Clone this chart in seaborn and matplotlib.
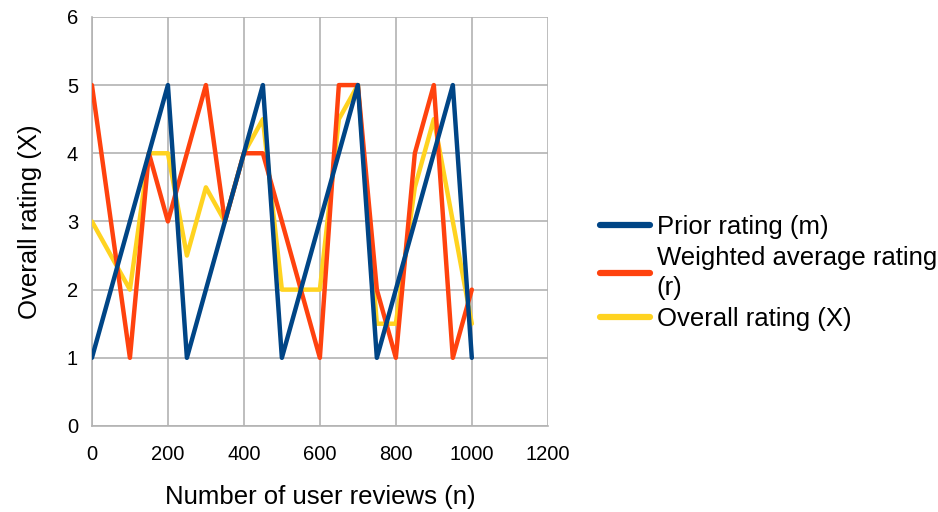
import matplotlib
matplotlib.use("Agg")
import matplotlib.pyplot as plt
import seaborn as sns
import pandas as pd

# Number of user reviews (n)
reviews = [0, 50, 100, 150, 200, 250, 300, 350, 400, 450, 500,
           550, 600, 650, 700, 750, 800, 850, 900, 950, 1000]

# Rating series
prior_rating = [1, 2, 3, 4, 5, 1, 2, 3, 4, 5, 1,
                2, 3, 4, 5, 1, 2, 3, 4, 5, 1]
weighted_avg_rating = [5, 3, 1, 4, 3, 4, 5, 3, 4, 4, 3,
                       2, 1, 5, 5, 2, 1, 4, 5, 1, 2]
overall_rating = [3, 2.5, 2, 4, 4, 2.5, 3.5, 3, 4, 4.5, 2,
                  2, 2, 4.5, 5, 1.5, 1.5, 3.5, 4.5, 3, 1.5]

series_names = ["Prior rating (m)", "Weighted average rating\n(r)", "Overall rating (X)"]
series_colors = ["#004586", "#ff420e", "#ffd320"]

df = pd.concat([
    pd.DataFrame({"n": reviews, "rating": vals, "series": name})
    for name, vals in zip(series_names, [prior_rating, weighted_avg_rating, overall_rating])
])

sns.set_style("whitegrid")
plt.rcParams["font.family"] = ["Liberation Sans", "DejaVu Sans"]
plt.rcParams["text.color"] = "black"
plt.rcParams["axes.labelcolor"] = "black"

fig = plt.figure(figsize=(9.38, 5.12), dpi=100)
ax = fig.add_axes([0.098, 0.168, 0.486, 0.799])

sns.lineplot(data=df, x="n", y="rating", hue="series", hue_order=series_names,
             palette=dict(zip(series_names, series_colors)), linewidth=3.2,
             estimator=None, sort=False, ax=ax)

# first series on top, last series at the bottom
for i, line in enumerate(ax.lines[:3]):
    line.set_zorder(4 - 0.5 * i)

ax.set_xlim(0, 1200)
ax.set_ylim(0, 6)
ax.set_xticks(range(0, 1201, 200))
ax.set_yticks(range(0, 7))
ax.grid(True, color="#b3b3b3", linewidth=1.2)
for side in ["top", "right"]:
    ax.spines[side].set_visible(False)
for side in ["left", "bottom"]:
    ax.spines[side].set_color("#b3b3b3")
    ax.spines[side].set_linewidth(1.2)
ax.tick_params(axis="both", length=6, width=1.2, color="#b3b3b3",
               labelsize=14.5, labelcolor="#000000", pad=4)
ax.tick_params(axis="x", pad=8)
ax.set_xlabel("Number of user reviews (n)", fontsize=18.5, labelpad=15)
ax.set_ylabel("Overall rating (X)", fontsize=18.5, labelpad=18)

leg = ax.legend(loc="center left", bbox_to_anchor=(0.64, 0.467),
                bbox_transform=fig.transFigure, frameon=False,
                fontsize=18.5, handlelength=1.95, handletextpad=0.25,
                labelspacing=0.28, borderpad=0, borderaxespad=0)
for line in leg.get_lines():
    line.set_linewidth(4.5)
for txt in leg.get_texts():
    txt.set_linespacing(1.28)
    txt.set_color("black")

fig.savefig("out.png", dpi=100)
